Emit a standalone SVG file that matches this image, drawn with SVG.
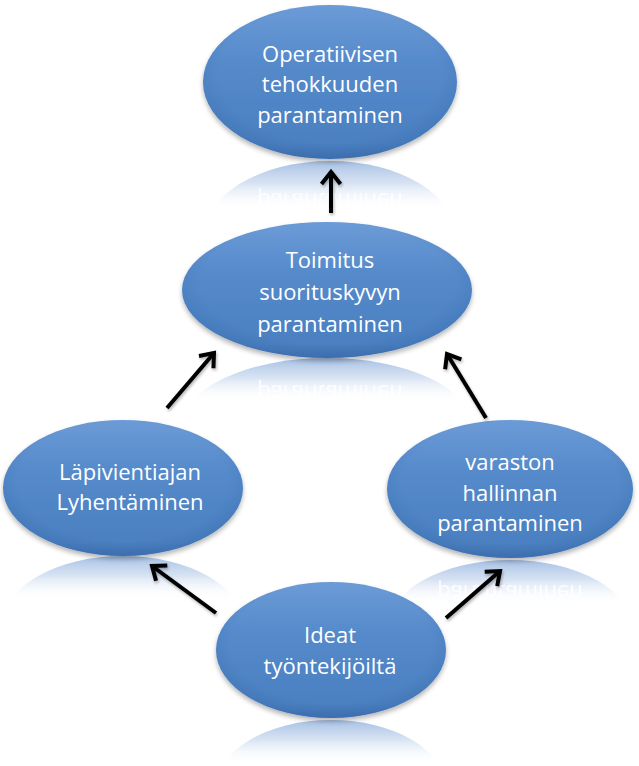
<svg xmlns="http://www.w3.org/2000/svg" width="639" height="766" viewBox="0 0 639 766">
  <defs>
    <linearGradient id="body" x1="0" y1="0" x2="0" y2="1">
      <stop offset="0" stop-color="#6c9bd7"/>
      <stop offset="0.4" stop-color="#5489ca"/>
      <stop offset="0.9" stop-color="#4b80c1"/>
      <stop offset="1" stop-color="#4274b4"/>
    </linearGradient>
    <radialGradient id="shade" cx="0.5" cy="0.45" r="0.55">
      <stop offset="0.8" stop-color="#1f4f8f" stop-opacity="0"/>
      <stop offset="1" stop-color="#1f4f8f" stop-opacity="0.18"/>
    </radialGradient>
    <linearGradient id="refl" x1="0" y1="0" x2="0" y2="1">
      <stop offset="0" stop-color="#95b4df" stop-opacity="0.85"/>
      <stop offset="0.14" stop-color="#b4cae8" stop-opacity="0.55"/>
      <stop offset="0.32" stop-color="#ffffff" stop-opacity="0"/>
    </linearGradient>
    <filter id="shadow" x="-10%" y="-10%" width="120%" height="130%">
      <feGaussianBlur in="SourceAlpha" stdDeviation="2.5"/>
      <feOffset dx="0" dy="3" result="b"/>
      <feComponentTransfer><feFuncA type="linear" slope="0.3"/></feComponentTransfer>
      <feMerge><feMergeNode/><feMergeNode in="SourceGraphic"/></feMerge>
    </filter>
    <filter id="ashadow" x="-30%" y="-30%" width="160%" height="160%">
      <feGaussianBlur in="SourceAlpha" stdDeviation="1.5"/>
      <feOffset dx="1" dy="2"/>
      <feComponentTransfer><feFuncA type="linear" slope="0.3"/></feComponentTransfer>
      <feMerge><feMergeNode/><feMergeNode in="SourceGraphic"/></feMerge>
    </filter>
    <marker id="head" markerUnits="userSpaceOnUse" markerWidth="24" markerHeight="24" viewBox="-18 -12 24 24" refX="0" refY="0" orient="auto" overflow="visible">
      <path d="M-12,-9.5 L0,0 L-12,9.5" fill="none" stroke="#000" stroke-width="4" stroke-linejoin="miter"/>
    </marker>
  </defs>
  <style>
    .node { fill: url(#body); filter: url(#shadow); }
    .shade { fill: url(#shade); }
    .refl { fill: url(#refl); }
    .lbl { font-family: "Open Sans", "Liberation Sans", sans-serif; font-size: 22px; fill: #ffffff; text-anchor: middle; }
    .rtxt { font-family: "Open Sans", "Liberation Sans", sans-serif; font-size: 22px; fill: #ffffff; text-anchor: middle; opacity: 0.85; }
    .conn { stroke: #000; stroke-width: 4; fill: none; marker-end: url(#head); }
  </style>

  <g id="reflections">
    <ellipse class="refl" cx="330" cy="238" rx="127" ry="77"/>
    <text class="rtxt" transform="matrix(1,0,0,-1,0,316)" x="330" y="123">parantaminen</text>
    <ellipse class="refl" cx="327" cy="426" rx="145" ry="68"/>
    <text class="rtxt" transform="matrix(1,0,0,-1,0,717)" x="330" y="332">parantaminen</text>
    <ellipse class="refl" cx="123" cy="624" rx="120" ry="68"/>
    <ellipse class="refl" cx="510" cy="629" rx="123" ry="69"/>
    <text class="rtxt" transform="matrix(1,0,0,-1,0,1116)" x="510" y="531">parantaminen</text>
    <ellipse class="refl" cx="331" cy="788" rx="115" ry="68"/>
  </g>

  <g id="node-top">
    <ellipse class="node" cx="330" cy="82" rx="127" ry="77"/>
    <ellipse class="shade" cx="330" cy="82" rx="127" ry="77"/>
    <text class="lbl" x="330" y="62">Operatiivisen</text>
    <text class="lbl" x="330" y="92">tehokkuuden</text>
    <text class="lbl" x="330" y="123">parantaminen</text>
  </g>

  <g id="node-toimitus">
    <ellipse class="node" cx="327" cy="290" rx="145" ry="68"/>
    <ellipse class="shade" cx="327" cy="290" rx="145" ry="68"/>
    <text class="lbl" x="330" y="268">Toimitus</text>
    <text class="lbl" x="330" y="300">suorituskyvyn</text>
    <text class="lbl" x="330" y="332">parantaminen</text>
  </g>

  <g id="node-lapivienti">
    <ellipse class="node" cx="123" cy="488" rx="120" ry="68"/>
    <ellipse class="shade" cx="123" cy="488" rx="120" ry="68"/>
    <text class="lbl" x="130" y="480">Läpivientiajan</text>
    <text class="lbl" x="130" y="510">Lyhentäminen</text>
  </g>

  <g id="node-varasto">
    <ellipse class="node" cx="510" cy="489" rx="123" ry="69"/>
    <ellipse class="shade" cx="510" cy="489" rx="123" ry="69"/>
    <text class="lbl" x="510" y="470">varaston</text>
    <text class="lbl" x="510" y="501">hallinnan</text>
    <text class="lbl" x="510" y="531">parantaminen</text>
  </g>

  <g id="node-ideat">
    <ellipse class="node" cx="331" cy="650" rx="115" ry="68"/>
    <ellipse class="shade" cx="331" cy="650" rx="115" ry="68"/>
    <text class="lbl" x="330" y="643">Ideat</text>
    <text class="lbl" x="330" y="674">työntekijöiltä</text>
  </g>

  <g id="connectors" filter="url(#ashadow)">
    <line class="conn" x1="331" y1="213" x2="331" y2="172"/>
    <line class="conn" x1="167" y1="408" x2="214" y2="353"/>
    <line class="conn" x1="486" y1="418" x2="447" y2="354"/>
    <line class="conn" x1="216" y1="613" x2="152" y2="566"/>
    <line class="conn" x1="446" y1="618" x2="500" y2="571"/>
  </g>
</svg>
